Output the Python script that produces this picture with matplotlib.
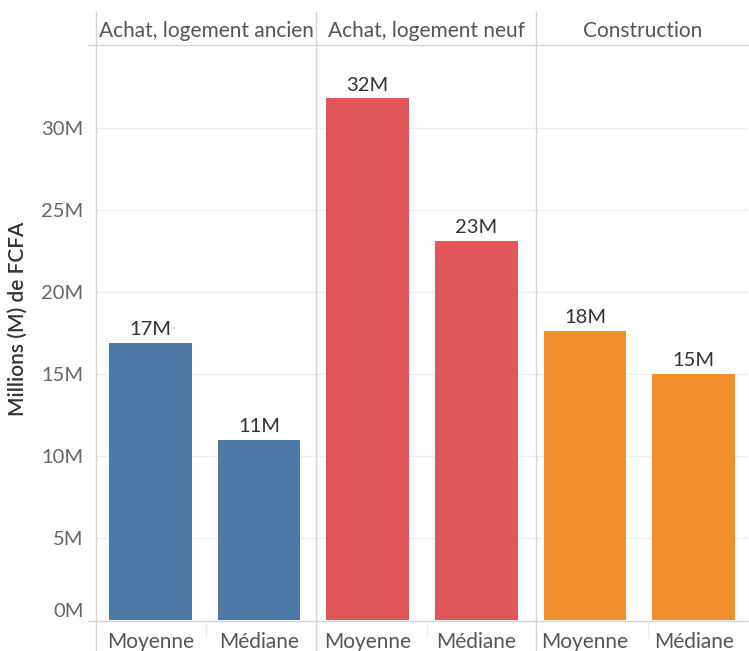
import matplotlib.pyplot as plt

# data (millions FCFA)
panels = ["Achat, logement ancien", "Achat, logement neuf", "Construction"]
measures = ["Moyenne", "Médiane"]
values_ancien = [16.9, 11.0]
values_neuf = [31.8, 23.1]
values_construction = [17.6, 15.0]
labels_ancien = ["17M", "11M"]
labels_neuf = ["32M", "23M"]
labels_construction = ["18M", "15M"]
yticks = [0, 5, 10, 15, 20, 25, 30]
ytick_labels = ["0M", "5M", "10M", "15M", "20M", "25M", "30M"]

colors = ["#4E79A7", "#E15759", "#F28E2B"]
grey_line = "#d4d4d4"

plt.rcParams['font.family'] = ['Lato', 'DejaVu Sans']

W, H = 749, 651
fig = plt.figure(figsize=(W / 100, H / 100), dpi=100)

left, right, bottom, top = 96, 748, 620, 45
ax = fig.add_axes([left / W, (H - bottom) / H, (right - left) / W, (bottom - top) / H])

all_values = [values_ancien, values_neuf, values_construction]
all_labels = [labels_ancien, labels_neuf, labels_construction]

for p, (vals, labs) in enumerate(zip(all_values, all_labels)):
    xs = [p * 2 + i + 0.5 for i in range(len(vals))]
    bars = ax.bar(xs, vals, width=0.76, color=colors[p], zorder=2)
    for b, lab in zip(bars, labs):
        ax.text(b.get_x() + b.get_width() / 2, b.get_height() + 0.3, lab,
                ha='center', va='bottom', fontsize=14.5, color='#333333')

ax.set_xlim(0, 6)
ax.set_ylim(0, 35.06)

for s in ax.spines.values():
    s.set_visible(False)

ax.set_yticks(yticks)
ax.set_yticklabels(ytick_labels)
ax.tick_params(axis='y', length=0, pad=9, labelsize=14.5, labelcolor='#666666')
ax.yaxis.grid(True, color='#efefef', linewidth=1, zorder=0)
# Tableau lifts the bottom tick label
ax.get_yticklabels()[0].set_verticalalignment('bottom')

ax.set_xticks([p * 2 + i + 0.5 for p in range(3) for i in range(2)])
ax.set_xticklabels(measures * 3)
ax.tick_params(axis='x', length=0, pad=9, labelsize=15, labelcolor='#555555')

ax.set_ylabel("Millions (M) de FCFA", fontsize=15, fontweight='semibold', color='#333333')
ax.yaxis.set_label_coords(-68 / (right - left), 0.5 + 14 / (bottom - top))

# panel frame lines in figure pixel coordinates
def fx(px):
    return px / W

def fy(py):
    return (H - py) / H

lines = [
    ((fx(96), fx(96)), (fy(12), fy(651))),
    ((fx(316), fx(316)), (fy(12), fy(651))),
    ((fx(536), fx(536)), (fy(12), fy(651))),
    ((fx(88), fx(749)), (fy(45), fy(45))),
    ((fx(88), fx(749)), (fy(621), fy(621))),
]
for xx, yy in lines:
    fig.add_artist(plt.Line2D(xx, yy, color=grey_line, linewidth=1))

# small separators between measures
for px in [206, 427, 648]:
    fig.add_artist(plt.Line2D((fx(px), fx(px)), (fy(621), fy(637)), color='#ececec', linewidth=1))

# panel headers
edges = [96, 316, 536, 749]
for p, name in enumerate(panels):
    cx = (edges[p] + edges[p + 1]) / 2
    fig.text(fx(cx), fy(31), name, ha='center', va='center', fontsize=15, color='#555555')

fig.savefig("out.png", dpi=100)
